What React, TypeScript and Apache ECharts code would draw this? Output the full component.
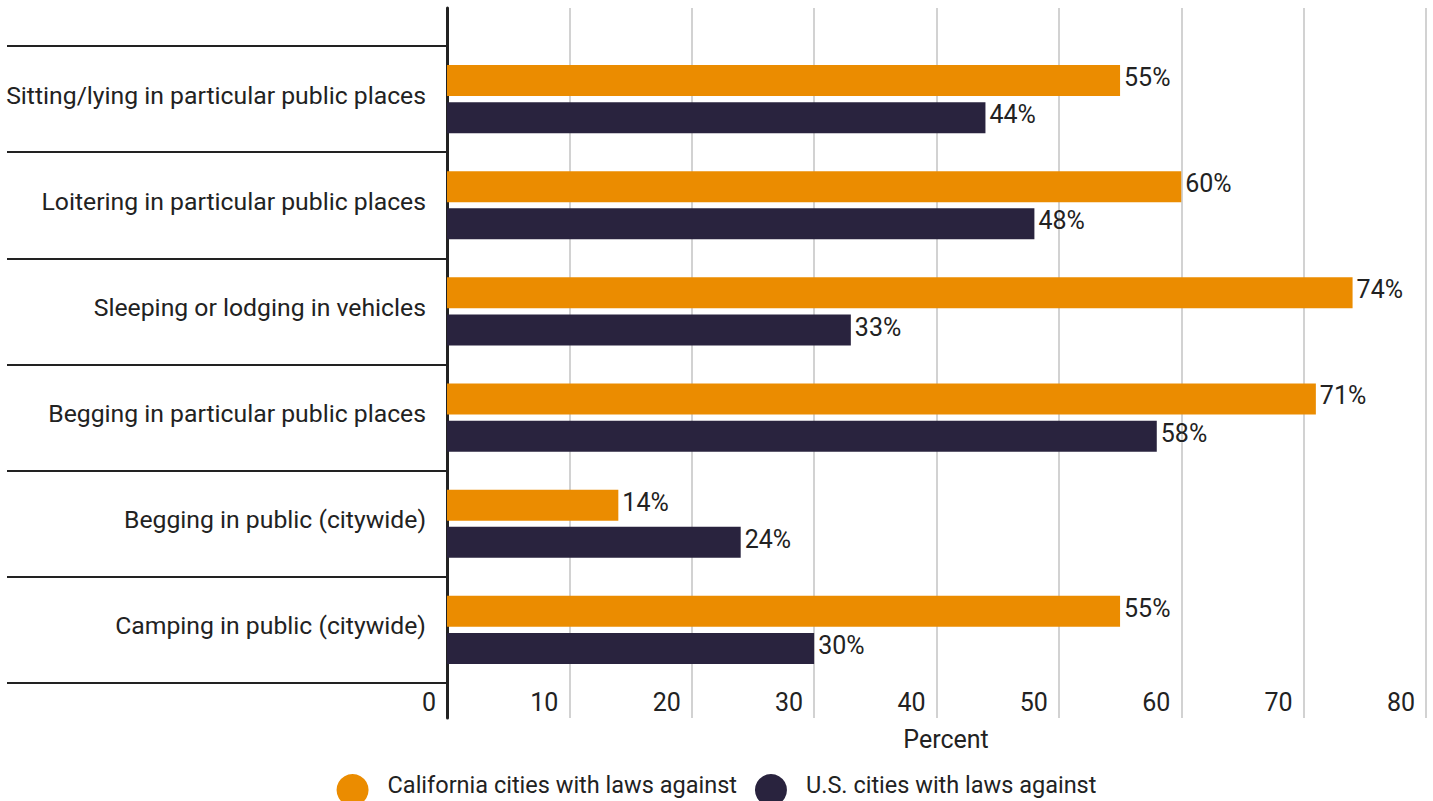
import React, { useEffect, useRef } from "react";
import * as echarts from "echarts";

const categories = [
  "Sitting/lying in particular public places",
  "Loitering in particular public places",
  "Sleeping or lodging in vehicles",
  "Begging in particular public places",
  "Begging in public (citywide)",
  "Camping in public (citywide)",
];
const californiaValues = [55, 60, 74, 71, 14, 55];
const usValues = [44, 48, 33, 58, 24, 30];
const seriesNames = ["California cities with laws against", "U.S. cities with laws against"];
const axisName = "Percent";

const FONT = "Roboto";
const FS = 25;
const CAT_FS = 24.75;
const LEG_FS = 23.5;
const TEXT = "#222222";
const ORANGE = "#EB8C00";
const DARK = "#29233E";

export default function App() {
  const ref = useRef<HTMLDivElement>(null);
  useEffect(() => {
    if (!ref.current) return;
    const chart = echarts.init(ref.current, undefined, { renderer: "svg" });
    const barLabel = {
      show: true,
      position: "right",
      distance: 4,
      formatter: "{t|{c}%}\n{s| }",
      color: TEXT,
      fontFamily: FONT,
      fontSize: FS,
      rich: {
        t: { fontFamily: FONT, fontSize: FS, lineHeight: 26, color: TEXT },
        s: { fontSize: 2, lineHeight: 6 },
      },
    };
    chart.setOption({
      animation: false,
      backgroundColor: "#ffffff",
      textStyle: { fontFamily: FONT },
      grid: [
        { left: 447, right: 7, top: 46, bottom: 118, containLabel: false },
        { left: 447, right: 7, top: 8, bottom: 83, containLabel: false },
      ],
      xAxis: [
        { type: "value", gridIndex: 0, min: 0, max: 80, interval: 10, show: false },
        {
          type: "value",
          gridIndex: 1,
          min: 0,
          max: 80,
          interval: 10,
          axisLine: { show: false },
          axisTick: { show: false },
          splitLine: { show: true, lineStyle: { color: "#d2d2d2", width: 2 } },
          axisLabel: {
            inside: true,
            align: "right",
            margin: 3,
            padding: [0, 11, 0, 0],
            color: TEXT,
            fontFamily: FONT,
            fontSize: FS,
          },
          name: axisName,
          nameLocation: "middle",
          nameGap: 9,
          nameTextStyle: {
            color: TEXT,
            fontFamily: FONT,
            fontSize: FS,
            verticalAlign: "top",
            padding: [0, 0, 0, 19],
          },
        },
      ],
      yAxis: [
        {
          type: "category",
          gridIndex: 0,
          inverse: true,
          data: categories,
          axisLine: { show: false },
          axisTick: {
            show: true,
            length: 440,
            lineStyle: { color: TEXT, width: 2 },
          },
          axisLabel: {
            margin: 21,
            color: TEXT,
            fontFamily: FONT,
            fontSize: CAT_FS,
            formatter: "{t|{value}}\n{s| }",
            rich: {
              t: { fontFamily: FONT, fontSize: CAT_FS, lineHeight: 26, color: TEXT, align: "right" },
              s: { fontSize: 2, lineHeight: 8, align: "right" },
            },
          },
          splitLine: { show: false },
        },
        {
          type: "value",
          gridIndex: 1,
          min: 0,
          max: 1,
          axisLine: { show: true, lineStyle: { color: TEXT, width: 3 } },
          axisTick: { show: false },
          axisLabel: { show: false },
          splitLine: { show: false },
        },
      ],
      legend: {
        left: "center",
        top: 768,
        icon: "circle",
        itemWidth: 32,
        itemHeight: 32,
        itemGap: 18,
        formatter: "{t|{name}}\n{s| }",
        textStyle: {
          color: TEXT,
          fontFamily: FONT,
          fontSize: LEG_FS,
          padding: [0, 0, 0, 14],
          rich: {
            t: { fontFamily: FONT, fontSize: LEG_FS, lineHeight: 24, color: TEXT },
            s: { fontSize: 2, lineHeight: 10 },
          },
        },
        data: seriesNames,
      },
      series: [
        {
          name: seriesNames[0],
          type: "bar",
          xAxisIndex: 0,
          yAxisIndex: 0,
          data: californiaValues,
          barWidth: 31,
          barGap: "20%",
          itemStyle: { color: ORANGE },
          label: barLabel,
        },
        {
          name: seriesNames[1],
          type: "bar",
          xAxisIndex: 0,
          yAxisIndex: 0,
          data: usValues,
          barWidth: 31,
          barGap: "20%",
          itemStyle: { color: DARK },
          label: barLabel,
        },
      ],
    });
    return () => chart.dispose();
  }, []);
  return (
    <div
      ref={ref}
      style={{ position: "absolute", left: 0, top: 0, width: 1433, height: 801 }}
    />
  );
}
